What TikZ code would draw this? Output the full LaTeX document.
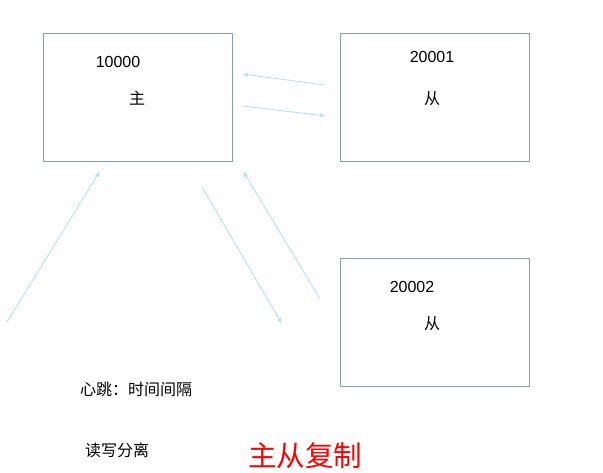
\documentclass[tikz,border=0pt]{standalone}
\usepackage{fontspec}
\setmainfont{Liberation Sans}
\newfontfamily\cjk{Noto Sans CJK SC}
\usetikzlibrary{arrows.meta}
\definecolor{boxc}{RGB}{135,163,168}
\definecolor{arrc}{RGB}{185,226,232}
\definecolor{redc}{RGB}{255,0,0}
\begin{document}
\begin{tikzpicture}[x=1pt,y=-1pt,
  srv/.style={draw=boxc,line width=0.9pt,minimum width=189pt,minimum height=128pt,inner sep=0pt},
  conn/.style={draw=arrc,line width=0.9pt,-{Latex[length=6pt,width=4.5pt]}},
  lbl/.style={inner sep=0pt,font=\fontsize{16}{19}\selectfont},
  clbl/.style={inner sep=0pt,font=\cjk\fontsize{16}{19}\selectfont}]
\useasboundingbox (0,0) rectangle (603,473);
\node[srv] (m) at (137.5,97) {};
\node[srv] (s1) at (434.5,97) {};
\node[srv] (s2) at (434.5,322) {};
\node[lbl] (m1) at (118,62) {10000};
\node[clbl] (m2) at (137,98) {主};
\node[lbl] (s1a) at (432,57) {20001};
\node[clbl] (s1b) at (432,99) {从};
\node[lbl] (s2a) at (412,287) {20002};
\node[clbl] (s2b) at (432,324) {从};
\coordinate (a1) at (325,85); \coordinate (b1) at (242,74);
\coordinate (a2) at (243,106); \coordinate (b2) at (326,116);
\coordinate (a3) at (7,322); \coordinate (b3) at (100,171);
\coordinate (a4) at (202,187); \coordinate (b4) at (282,324);
\coordinate (a5) at (320,299); \coordinate (b5) at (243,171);
\draw[conn] (a1) -- (b1);
\draw[conn] (a2) -- (b2);
\draw[conn] (a3) -- (b3);
\draw[conn] (a4) -- (b4);
\draw[conn] (a5) -- (b5);
\node[clbl,anchor=west] (hb) at (80,389) {心跳：时间间隔};
\node[clbl,anchor=west] (rw) at (85,450) {读写分离};
\node[inner sep=0pt,anchor=west,text=redc,font=\cjk\fontsize{28.5}{32}\selectfont] (t) at (248,456) {主从复制};
\end{tikzpicture}
\end{document}
